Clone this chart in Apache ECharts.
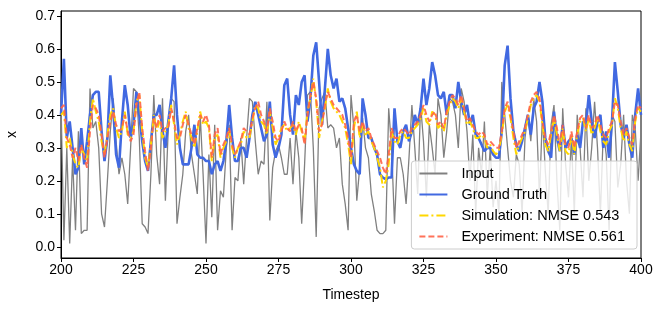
<!DOCTYPE html>
<html><head><meta charset="utf-8">
<script src="https://cdn.jsdelivr.net/npm/echarts@6/dist/echarts.min.js"></script>
<style>html,body{margin:0;padding:0;background:#fff}#c{width:665px;height:312px}</style>
</head><body><div id="c"></div>
<script>
const startStep = 200;
const xTicks = [200, 225, 250, 275, 300, 325, 350, 375, 400];
const yTicks = [0.0, 0.1, 0.2, 0.3, 0.4, 0.5, 0.6, 0.7];

const inputVals = [
0.44,0.02,0.30,0.01,0.27,0.05,0.35,0.04,0.05,0.05,
0.48,0.36,0.38,0.30,0.10,0.06,0.20,0.35,0.45,0.32,
0.22,0.27,0.22,0.13,0.30,0.48,0.47,0.33,0.07,0.06,
0.04,0.22,0.46,0.28,0.19,0.45,0.14,0.36,0.45,0.44,
0.07,0.15,0.22,0.35,0.40,0.28,0.22,0.16,0.40,0.22,
0.01,0.28,0.09,0.37,0.05,0.17,0.15,0.30,0.37,0.05,
0.21,0.20,0.33,0.19,0.33,0.45,0.44,0.32,0.22,0.26,
0.25,0.44,0.08,0.24,0.29,0.31,0.27,0.22,0.22,0.33,
0.19,0.35,0.27,0.07,0.25,0.46,0.47,0.30,0.03,0.42,
0.45,0.47,0.36,0.37,0.36,0.30,0.33,0.19,0.13,0.05,
0.46,0.36,0.14,0.24,0.39,0.30,0.27,0.16,0.11,0.05,
0.04,0.04,0.05,0.42,0.30,0.07,0.27,0.27,0.22,0.13,
0.27,0.43,0.30,0.16,0.43,0.32,0.15,0.37,0.30,0.22,
0.45,0.40,0.27,0.35,0.45,0.44,0.40,0.30,0.48,0.44,
0.35,0.20,0.34,0.10,0.30,0.22,0.38,0.15,0.30,0.12,
0.20,0.10,0.50,0.40,0.30,0.20,0.15,0.28,0.25,0.10,
0.33,0.40,0.32,0.45,0.38,0.15,0.40,0.23,0.10,0.37,
0.43,0.20,0.05,0.42,0.25,0.15,0.33,0.10,0.40,0.30,
0.15,0.42,0.20,0.30,0.44,0.30,0.10,0.35,0.28,0.05,
0.40,0.38,0.18,0.25,0.40,0.20,0.10,0.40,0.36,0.20,
0.35];

const groundTruth = [
0.40,0.57,0.33,0.38,0.30,0.22,0.24,0.36,0.25,0.32,
0.40,0.46,0.47,0.47,0.35,0.26,0.33,0.52,0.42,0.28,
0.24,0.38,0.49,0.43,0.33,0.37,0.47,0.40,0.32,0.26,
0.23,0.32,0.40,0.40,0.43,0.35,0.30,0.38,0.45,0.55,
0.40,0.30,0.25,0.25,0.25,0.30,0.37,0.28,0.27,0.27,
0.26,0.26,0.22,0.25,0.26,0.23,0.26,0.32,0.43,0.33,
0.26,0.26,0.30,0.30,0.27,0.33,0.40,0.44,0.40,0.36,
0.32,0.34,0.44,0.31,0.27,0.30,0.34,0.49,0.51,0.40,
0.34,0.46,0.43,0.50,0.52,0.38,0.45,0.58,0.62,0.50,
0.37,0.48,0.60,0.52,0.48,0.51,0.44,0.45,0.42,0.36,
0.30,0.25,0.23,0.22,0.45,0.40,0.33,0.33,0.30,0.28,
0.22,0.21,0.205,0.21,0.21,0.42,0.32,0.30,0.35,0.37,
0.32,0.35,0.40,0.37,0.42,0.51,0.43,0.48,0.56,0.52,
0.46,0.45,0.47,0.40,0.46,0.46,0.42,0.50,0.44,0.40,
0.43,0.37,0.40,0.34,0.33,0.31,0.29,0.30,0.30,0.28,
0.27,0.27,0.35,0.55,0.61,0.45,0.35,0.31,0.29,0.32,
0.36,0.40,0.34,0.42,0.44,0.50,0.44,0.33,0.29,0.27,
0.41,0.33,0.29,0.37,0.30,0.32,0.33,0.28,0.34,0.30,
0.38,0.37,0.46,0.38,0.33,0.38,0.40,0.30,0.35,0.27,
0.38,0.56,0.47,0.37,0.33,0.37,0.31,0.27,0.40,0.48,
0.40];

const simulation = [
0.40,0.41,0.30,0.33,0.28,0.25,0.24,0.30,0.28,0.26,
0.38,0.45,0.41,0.38,0.32,0.28,0.34,0.40,0.42,0.36,
0.33,0.35,0.41,0.34,0.33,0.35,0.44,0.46,0.35,0.27,
0.24,0.31,0.40,0.35,0.38,0.33,0.35,0.37,0.43,0.37,
0.31,0.34,0.38,0.41,0.36,0.33,0.30,0.35,0.41,0.37,
0.38,0.36,0.26,0.33,0.34,0.27,0.30,0.32,0.35,0.30,
0.27,0.30,0.31,0.35,0.33,0.33,0.38,0.43,0.42,0.38,
0.37,0.34,0.41,0.36,0.31,0.33,0.36,0.37,0.35,0.36,
0.37,0.34,0.38,0.35,0.32,0.41,0.45,0.51,0.44,0.33,
0.38,0.42,0.48,0.44,0.42,0.41,0.40,0.38,0.36,0.31,
0.25,0.36,0.41,0.33,0.37,0.34,0.35,0.32,0.30,0.27,
0.24,0.18,0.20,0.25,0.35,0.32,0.31,0.34,0.35,0.33,
0.33,0.35,0.36,0.37,0.39,0.42,0.38,0.37,0.41,0.40,
0.36,0.37,0.35,0.40,0.43,0.45,0.44,0.42,0.45,0.41,
0.37,0.38,0.36,0.33,0.33,0.34,0.33,0.30,0.31,0.29,
0.28,0.29,0.34,0.41,0.43,0.39,0.33,0.28,0.31,0.33,
0.35,0.39,0.43,0.45,0.46,0.44,0.37,0.31,0.29,0.34,
0.39,0.34,0.29,0.36,0.29,0.28,0.34,0.28,0.34,0.38,
0.39,0.35,0.39,0.34,0.36,0.39,0.35,0.32,0.31,0.35,
0.37,0.45,0.42,0.36,0.32,0.35,0.31,0.29,0.38,0.42,
0.41];

const experiment = [
0.42,0.43,0.33,0.31,0.27,0.30,0.26,0.31,0.27,0.24,
0.35,0.43,0.42,0.40,0.34,0.27,0.33,0.38,0.41,0.37,
0.35,0.36,0.40,0.35,0.32,0.34,0.43,0.47,0.36,0.29,
0.23,0.30,0.39,0.36,0.40,0.35,0.36,0.36,0.42,0.38,
0.33,0.33,0.37,0.40,0.37,0.34,0.31,0.36,0.40,0.38,
0.40,0.37,0.27,0.34,0.36,0.28,0.31,0.33,0.36,0.31,
0.28,0.30,0.32,0.36,0.35,0.34,0.39,0.42,0.44,0.40,
0.38,0.35,0.42,0.38,0.33,0.32,0.35,0.38,0.36,0.35,
0.38,0.35,0.37,0.36,0.31,0.40,0.46,0.50,0.45,0.35,
0.37,0.43,0.47,0.45,0.43,0.42,0.41,0.40,0.37,0.33,
0.27,0.38,0.40,0.35,0.38,0.35,0.36,0.33,0.31,0.29,
0.27,0.24,0.22,0.28,0.36,0.33,0.33,0.35,0.36,0.35,
0.34,0.36,0.37,0.38,0.40,0.43,0.40,0.38,0.40,0.41,
0.37,0.38,0.36,0.41,0.44,0.46,0.45,0.43,0.46,0.42,
0.38,0.39,0.37,0.35,0.34,0.35,0.34,0.31,0.32,0.31,
0.30,0.30,0.35,0.42,0.44,0.40,0.35,0.30,0.32,0.34,
0.36,0.40,0.44,0.46,0.47,0.45,0.38,0.33,0.31,0.35,
0.40,0.36,0.31,0.37,0.31,0.30,0.35,0.30,0.35,0.39,
0.40,0.36,0.40,0.36,0.37,0.40,0.37,0.34,0.33,0.36,
0.38,0.44,0.43,0.38,0.34,0.36,0.33,0.31,0.39,0.43,
0.42];

const seriesNames = ['Input', 'Ground Truth', 'Simulation: NMSE 0.543', 'Experiment: NMSE 0.561'];

function pairs(arr) { return arr.map((v, i) => [startStep + i, v]); }

const FONT = 'Liberation Sans, Arial, sans-serif';
const chart = echarts.init(document.getElementById('c'), null, {renderer: 'canvas'});
chart.setOption({
  animation: false,
  backgroundColor: '#ffffff',
  grid: {left: 61, right: 24, top: 11, bottom: 54, containLabel: false, outerBoundsMode: 'none',
         show: true, borderColor: '#000', borderWidth: 1, backgroundColor: 'transparent'},
  xAxis: {
    type: 'value', min: 200, max: 400, interval: 25,
    name: 'Timestep', nameLocation: 'middle', nameGap: 30,
    nameTextStyle: {fontFamily: FONT, fontSize: 14, color: '#000'},
    axisLine: {show: true, onZero: false, lineStyle: {color: '#000', width: 1}},
    axisTick: {show: true, inside: false, length: 4, lineStyle: {color: '#000'}},
    axisLabel: {fontFamily: FONT, fontSize: 14, color: '#000', margin: 5},
    splitLine: {show: false}
  },
  yAxis: {
    type: 'value', min: -0.034, max: 0.715,
    name: 'x', nameLocation: 'middle', nameGap: 42, nameRotate: 90,
    nameTextStyle: {fontFamily: FONT, fontSize: 14, color: '#000'},
    axisLine: {show: true, onZero: false, lineStyle: {color: '#000', width: 1}},
    axisTick: {show: true, inside: false, length: 4, lineStyle: {color: '#000'}, customValues: yTicks},
    axisLabel: {fontFamily: FONT, fontSize: 14, color: '#000', margin: 6,
      customValues: yTicks, formatter: v => v.toFixed(1)},
    splitLine: {show: false}
  },
  legend: {
    show: true,
    orient: 'vertical', right: 28, top: 161, z: 10,
    backgroundColor: 'rgba(255,255,255,0.8)', borderColor: '#cccccc', borderWidth: 1, borderRadius: 3,
    padding: [5, 12, 5, 7], itemGap: 6, itemWidth: 28, itemHeight: 14,
    itemStyle: {opacity: 0},
    textStyle: {fontFamily: FONT, fontSize: 14.5, color: '#000', padding: [0, 0, 0, 9]},
    data: seriesNames
  },
  series: [
    {name: seriesNames[0], type: 'line', data: pairs(inputVals), showSymbol: false, symbol: 'none',
     lineStyle: {color: '#808080', width: 1.3}, itemStyle: {color: '#808080'}, z: 2},
    {name: seriesNames[1], type: 'line', data: pairs(groundTruth), showSymbol: false, symbol: 'none',
     lineStyle: {color: '#4169E1', width: 2.6}, itemStyle: {color: '#4169E1'}, z: 3},
    {name: seriesNames[2], type: 'line', data: pairs(simulation), showSymbol: false, symbol: 'none',
     lineStyle: {color: '#FFD700', width: 2, type: [9, 3, 2, 3]}, itemStyle: {color: '#FFD700'}, z: 4},
    {name: seriesNames[3], type: 'line', data: pairs(experiment), showSymbol: false, symbol: 'none',
     lineStyle: {color: '#FF6347', width: 2, type: [6, 3], opacity: 0.9}, itemStyle: {color: '#FF6347'}, z: 5}
  ]
});
</script></body></html>
